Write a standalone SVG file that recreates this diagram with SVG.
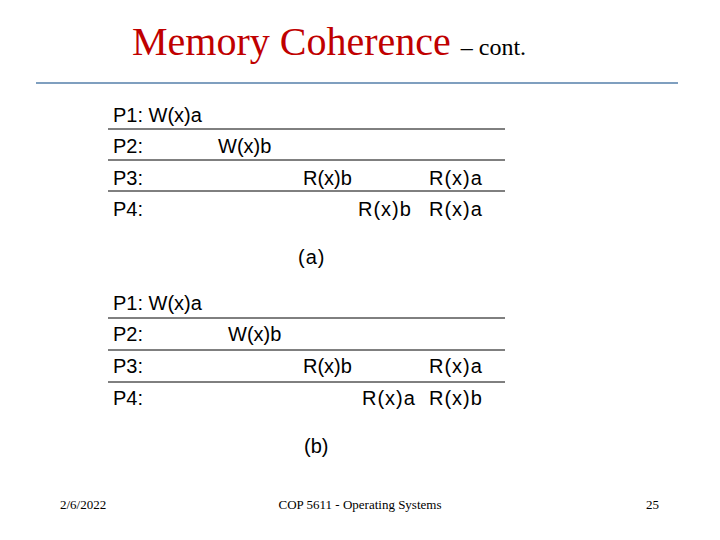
<svg xmlns="http://www.w3.org/2000/svg" width="720" height="540" viewBox="0 0 720 540">
<style>
.t{font-family:"Liberation Sans",Arial,sans-serif;font-size:20px;fill:#000}
.r{stroke:#000;stroke-width:1}
.f{font-family:"Liberation Serif","Times New Roman",serif;font-size:13px;fill:#000}
</style>
<rect width="720" height="540" fill="#fff"/>
<text x="132" y="55" font-family="Liberation Serif,serif" font-size="40" fill="#c00000">Memory Coherence <tspan font-size="24" fill="#000">– cont.</tspan></text>
<line x1="36" y1="83" x2="678" y2="83" stroke="#7f9fbf" stroke-width="2"/>
<g id="table-a">
<line class="r" x1="108" y1="129" x2="505" y2="129"/>
<line class="r" x1="108" y1="160" x2="505" y2="160"/>
<line class="r" x1="108" y1="191" x2="505" y2="191"/>
<text class="t" x="113" y="122">P1:  W(x)a</text>
<text class="t" x="113" y="153">P2:</text><text class="t" x="218" y="153">W(x)b</text>
<text class="t" x="113" y="185">P3:</text><text class="t" x="303" y="185">R(x)b</text><text class="t" x="429" y="185" letter-spacing="1">R(x)a</text>
<text class="t" x="113" y="216">P4:</text><text class="t" x="358" y="216" letter-spacing="1">R(x)b</text><text class="t" x="429" y="216" letter-spacing="1">R(x)a</text>
<text class="t" x="298" y="264" letter-spacing="1">(a)</text>
</g>
<g id="table-b">
<line class="r" x1="108" y1="318" x2="505" y2="318"/>
<line class="r" x1="108" y1="350" x2="505" y2="350"/>
<line class="r" x1="108" y1="382" x2="505" y2="382"/>
<text class="t" x="113" y="310">P1:  W(x)a</text>
<text class="t" x="113" y="341">P2:</text><text class="t" x="228" y="341">W(x)b</text>
<text class="t" x="113" y="373">P3:</text><text class="t" x="303" y="373">R(x)b</text><text class="t" x="429" y="373" letter-spacing="1">R(x)a</text>
<text class="t" x="113" y="405">P4:</text><text class="t" x="362" y="405" letter-spacing="1">R(x)a</text><text class="t" x="429" y="405" letter-spacing="1">R(x)b</text>
<text class="t" x="304" y="453">(b)</text>
</g>
<text class="f" x="60" y="509">2/6/2022</text>
<text class="f" x="360" y="509" text-anchor="middle">COP 5611 - Operating Systems</text>
<text class="f" x="659" y="509" text-anchor="end">25</text>
</svg>
